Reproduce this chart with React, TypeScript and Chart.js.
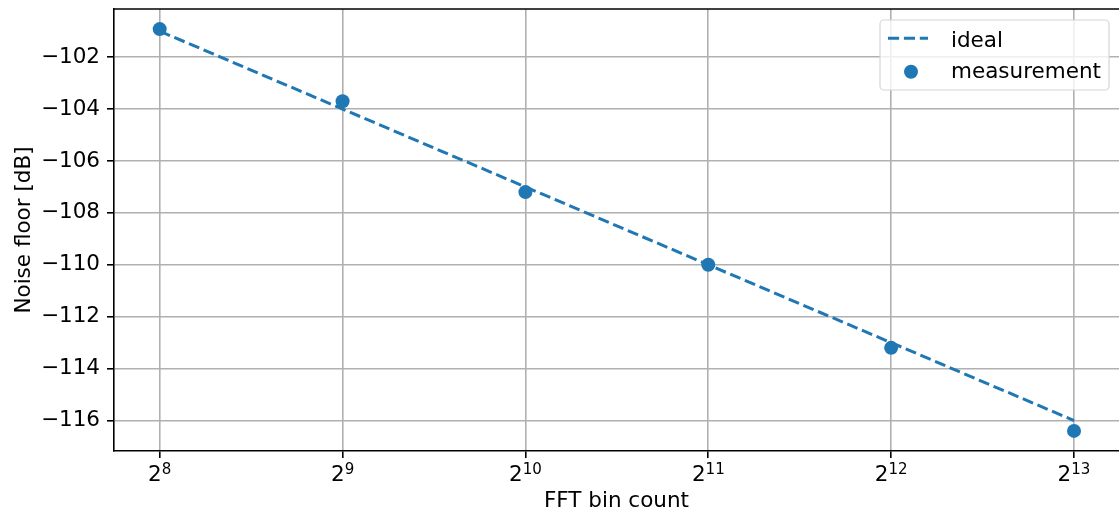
import React, { useEffect, useRef } from 'react';
import { Chart, registerables } from 'chart.js';

Chart.register(...registerables);

// ---- data ----
const binCounts = [256, 512, 1024, 2048, 4096, 8192];
const xTickBase = '2';
const xTickExponents = ['8', '9', '10', '11', '12', '13'];
const idealDb = [-101, -104, -107, -110, -113, -116];
const measuredDb = [-100.92, -103.7, -107.2, -110.0, -113.2, -116.4];
const yTickValues = [-116, -114, -112, -110, -108, -106, -104, -102];
const seriesNames = ['ideal', 'measurement'];
const xTitle = 'FFT bin count';
const yTitle = 'Noise floor [dB]';

const BLUE = '#1f77b4';
const FONT = 'DejaVu Sans';
const FS = 21.5;

const allY = [...idealDb, ...measuredDb];
const yLo = Math.min(...allY);
const yHi = Math.max(...allY);
const yPad = (yHi - yLo) * 0.05;
const xMin = binCounts[0] / Math.pow(2, 0.25);
const xMax = binCounts[binCounts.length - 1] * Math.pow(2, 0.246);

const topSpinePlugin = {
  id: 'topSpine',
  afterDraw(chart: any) {
    const { ctx, chartArea } = chart;
    ctx.save();
    ctx.strokeStyle = '#000';
    ctx.lineWidth = 1.6;
    ctx.beginPath();
    ctx.moveTo(chartArea.left - 0.8, chartArea.top);
    ctx.lineTo(chartArea.right, chartArea.top);
    ctx.stroke();
    ctx.restore();
  },
};

const xLabelPlugin = {
  id: 'powLabels',
  afterDraw(chart: any) {
    const { ctx, chartArea } = chart;
    const xs = chart.scales.x;
    const baseY = chartArea.bottom + 30;
    ctx.save();
    ctx.fillStyle = '#000';
    ctx.textBaseline = 'alphabetic';
    ctx.textAlign = 'left';
    binCounts.forEach((v, i) => {
      const px = xs.getPixelForValue(v);
      ctx.font = `${FS}px "${FONT}"`;
      const w1 = ctx.measureText(xTickBase).width;
      ctx.font = `${FS * 0.7}px "${FONT}"`;
      const w2 = ctx.measureText(xTickExponents[i]).width;
      const start = px - (w1 + w2) / 2;
      ctx.font = `${FS}px "${FONT}"`;
      ctx.fillText(xTickBase, start, baseY);
      ctx.font = `${FS * 0.7}px "${FONT}"`;
      ctx.fillText(xTickExponents[i], start + w1, baseY - 7.5);
    });
    ctx.restore();
  },
};

const legendPlugin = {
  id: 'mplLegend',
  afterDraw(chart: any) {
    const { ctx, chartArea } = chart;
    const w = 229;
    const h = 70;
    const x = chartArea.right - 10 - w;
    const y = chartArea.top + 11;
    ctx.save();
    ctx.beginPath();
    const r = 4;
    ctx.moveTo(x + r, y);
    ctx.lineTo(x + w - r, y);
    ctx.arcTo(x + w, y, x + w, y + r, r);
    ctx.lineTo(x + w, y + h - r);
    ctx.arcTo(x + w, y + h, x + w - r, y + h, r);
    ctx.lineTo(x + r, y + h);
    ctx.arcTo(x, y + h, x, y + h - r, r);
    ctx.lineTo(x, y + r);
    ctx.arcTo(x, y, x + r, y, r);
    ctx.closePath();
    ctx.fillStyle = 'rgba(255,255,255,0.8)';
    ctx.fill();
    ctx.strokeStyle = '#d6d6d6';
    ctx.lineWidth = 1.2;
    ctx.stroke();

    ctx.strokeStyle = BLUE;
    ctx.lineWidth = 3;
    ctx.setLineDash([11.1, 4.8]);
    ctx.beginPath();
    ctx.moveTo(x + 8, y + 18.3);
    ctx.lineTo(x + 48, y + 18.3);
    ctx.stroke();
    ctx.setLineDash([]);

    ctx.fillStyle = BLUE;
    ctx.beginPath();
    ctx.arc(x + 31, y + 51.7, 7, 0, Math.PI * 2);
    ctx.fill();

    ctx.fillStyle = '#000';
    ctx.font = `${FS}px "${FONT}"`;
    ctx.textAlign = 'left';
    ctx.textBaseline = 'alphabetic';
    ctx.fillText(seriesNames[0], x + 71, y + 26.7);
    ctx.fillText(seriesNames[1], x + 71, y + 57.7);
    ctx.restore();
  },
};

export default function App() {
  const canvasRef = useRef<HTMLCanvasElement | null>(null);

  useEffect(() => {
    const canvas = canvasRef.current;
    if (!canvas) return;
    Chart.defaults.font.family = FONT;
    Chart.defaults.font.size = FS;
    Chart.defaults.color = '#000';

    const gridOpts = {
      color: '#b0b0b0',
      lineWidth: 1.6,
      drawTicks: true,
      tickLength: 7,
      tickColor: '#000',
      tickWidth: 1.6,
    };

    const chart = new Chart(canvas, {
      type: 'line',
      data: {
        datasets: [
          {
            label: seriesNames[0],
            data: binCounts.map((b, i) => ({ x: b, y: idealDb[i] })),
            borderColor: BLUE,
            backgroundColor: BLUE,
            borderWidth: 3,
            borderDash: [11.1, 4.8],
            pointRadius: 0,
            fill: false,
            tension: 0,
            order: 2,
          },
          {
            label: seriesNames[1],
            data: binCounts.map((b, i) => ({ x: b, y: measuredDb[i] })),
            showLine: false,
            borderColor: BLUE,
            backgroundColor: BLUE,
            pointRadius: 7,
            pointBorderWidth: 0,
            pointBackgroundColor: BLUE,
            order: 1,
          },
        ],
      },
      options: {
        responsive: false,
        animation: false,
        layout: { autoPadding: false, padding: { top: 1, left: 0, right: 0, bottom: 0 } },
        plugins: {
          legend: { display: false },
          tooltip: { enabled: false },
        },
        scales: {
          x: {
            type: 'logarithmic',
            min: xMin,
            max: xMax,
            afterBuildTicks: (s: any) => {
              s.ticks = binCounts.map((v) => ({ value: v }));
            },
            afterFit: (s: any) => {
              s.height = 65;
              s.paddingLeft = 0;
              s.paddingRight = 0;
              s.paddingTop = 0;
              s.paddingBottom = 0;
            },
            ticks: {
              autoSkip: false,
              maxRotation: 0,
              padding: 6,
              color: 'rgba(0,0,0,0)',
              callback: () => '',
            },
            grid: gridOpts,
            border: { display: true, color: '#000', width: 1.6 },
            title: {
              display: true,
              text: xTitle,
              font: { size: FS, family: FONT },
              color: '#000',
              padding: { top: 4, bottom: 2 },
            },
          },
          y: {
            type: 'linear',
            min: yLo - yPad,
            max: yHi + yPad,
            afterBuildTicks: (s: any) => {
              s.ticks = yTickValues.map((v) => ({ value: v }));
            },
            afterFit: (s: any) => {
              s.width = 106;
              s.paddingLeft = 0;
              s.paddingRight = 0;
              s.paddingTop = 0;
              s.paddingBottom = 0;
            },
            ticks: {
              padding: 7,
              font: { size: FS, family: FONT },
              color: '#000',
              callback: (v: any) => String(v).replace('-', '\u2212'),
            },
            grid: gridOpts,
            border: { display: true, color: '#000', width: 1.6 },
            title: {
              display: true,
              text: yTitle,
              font: { size: FS, family: FONT },
              color: '#000',
              padding: { top: 4, bottom: 4 },
            },
          },
        },
      },
      plugins: [topSpinePlugin, xLabelPlugin, legendPlugin],
    } as any);

    return () => chart.destroy();
  }, []);

  return (
    <div style={{ position: 'absolute', left: 8, top: 8, width: 1111, height: 508 }}>
      <canvas ref={canvasRef} width={1111} height={508} style={{ display: 'block' }} />
    </div>
  );
}
